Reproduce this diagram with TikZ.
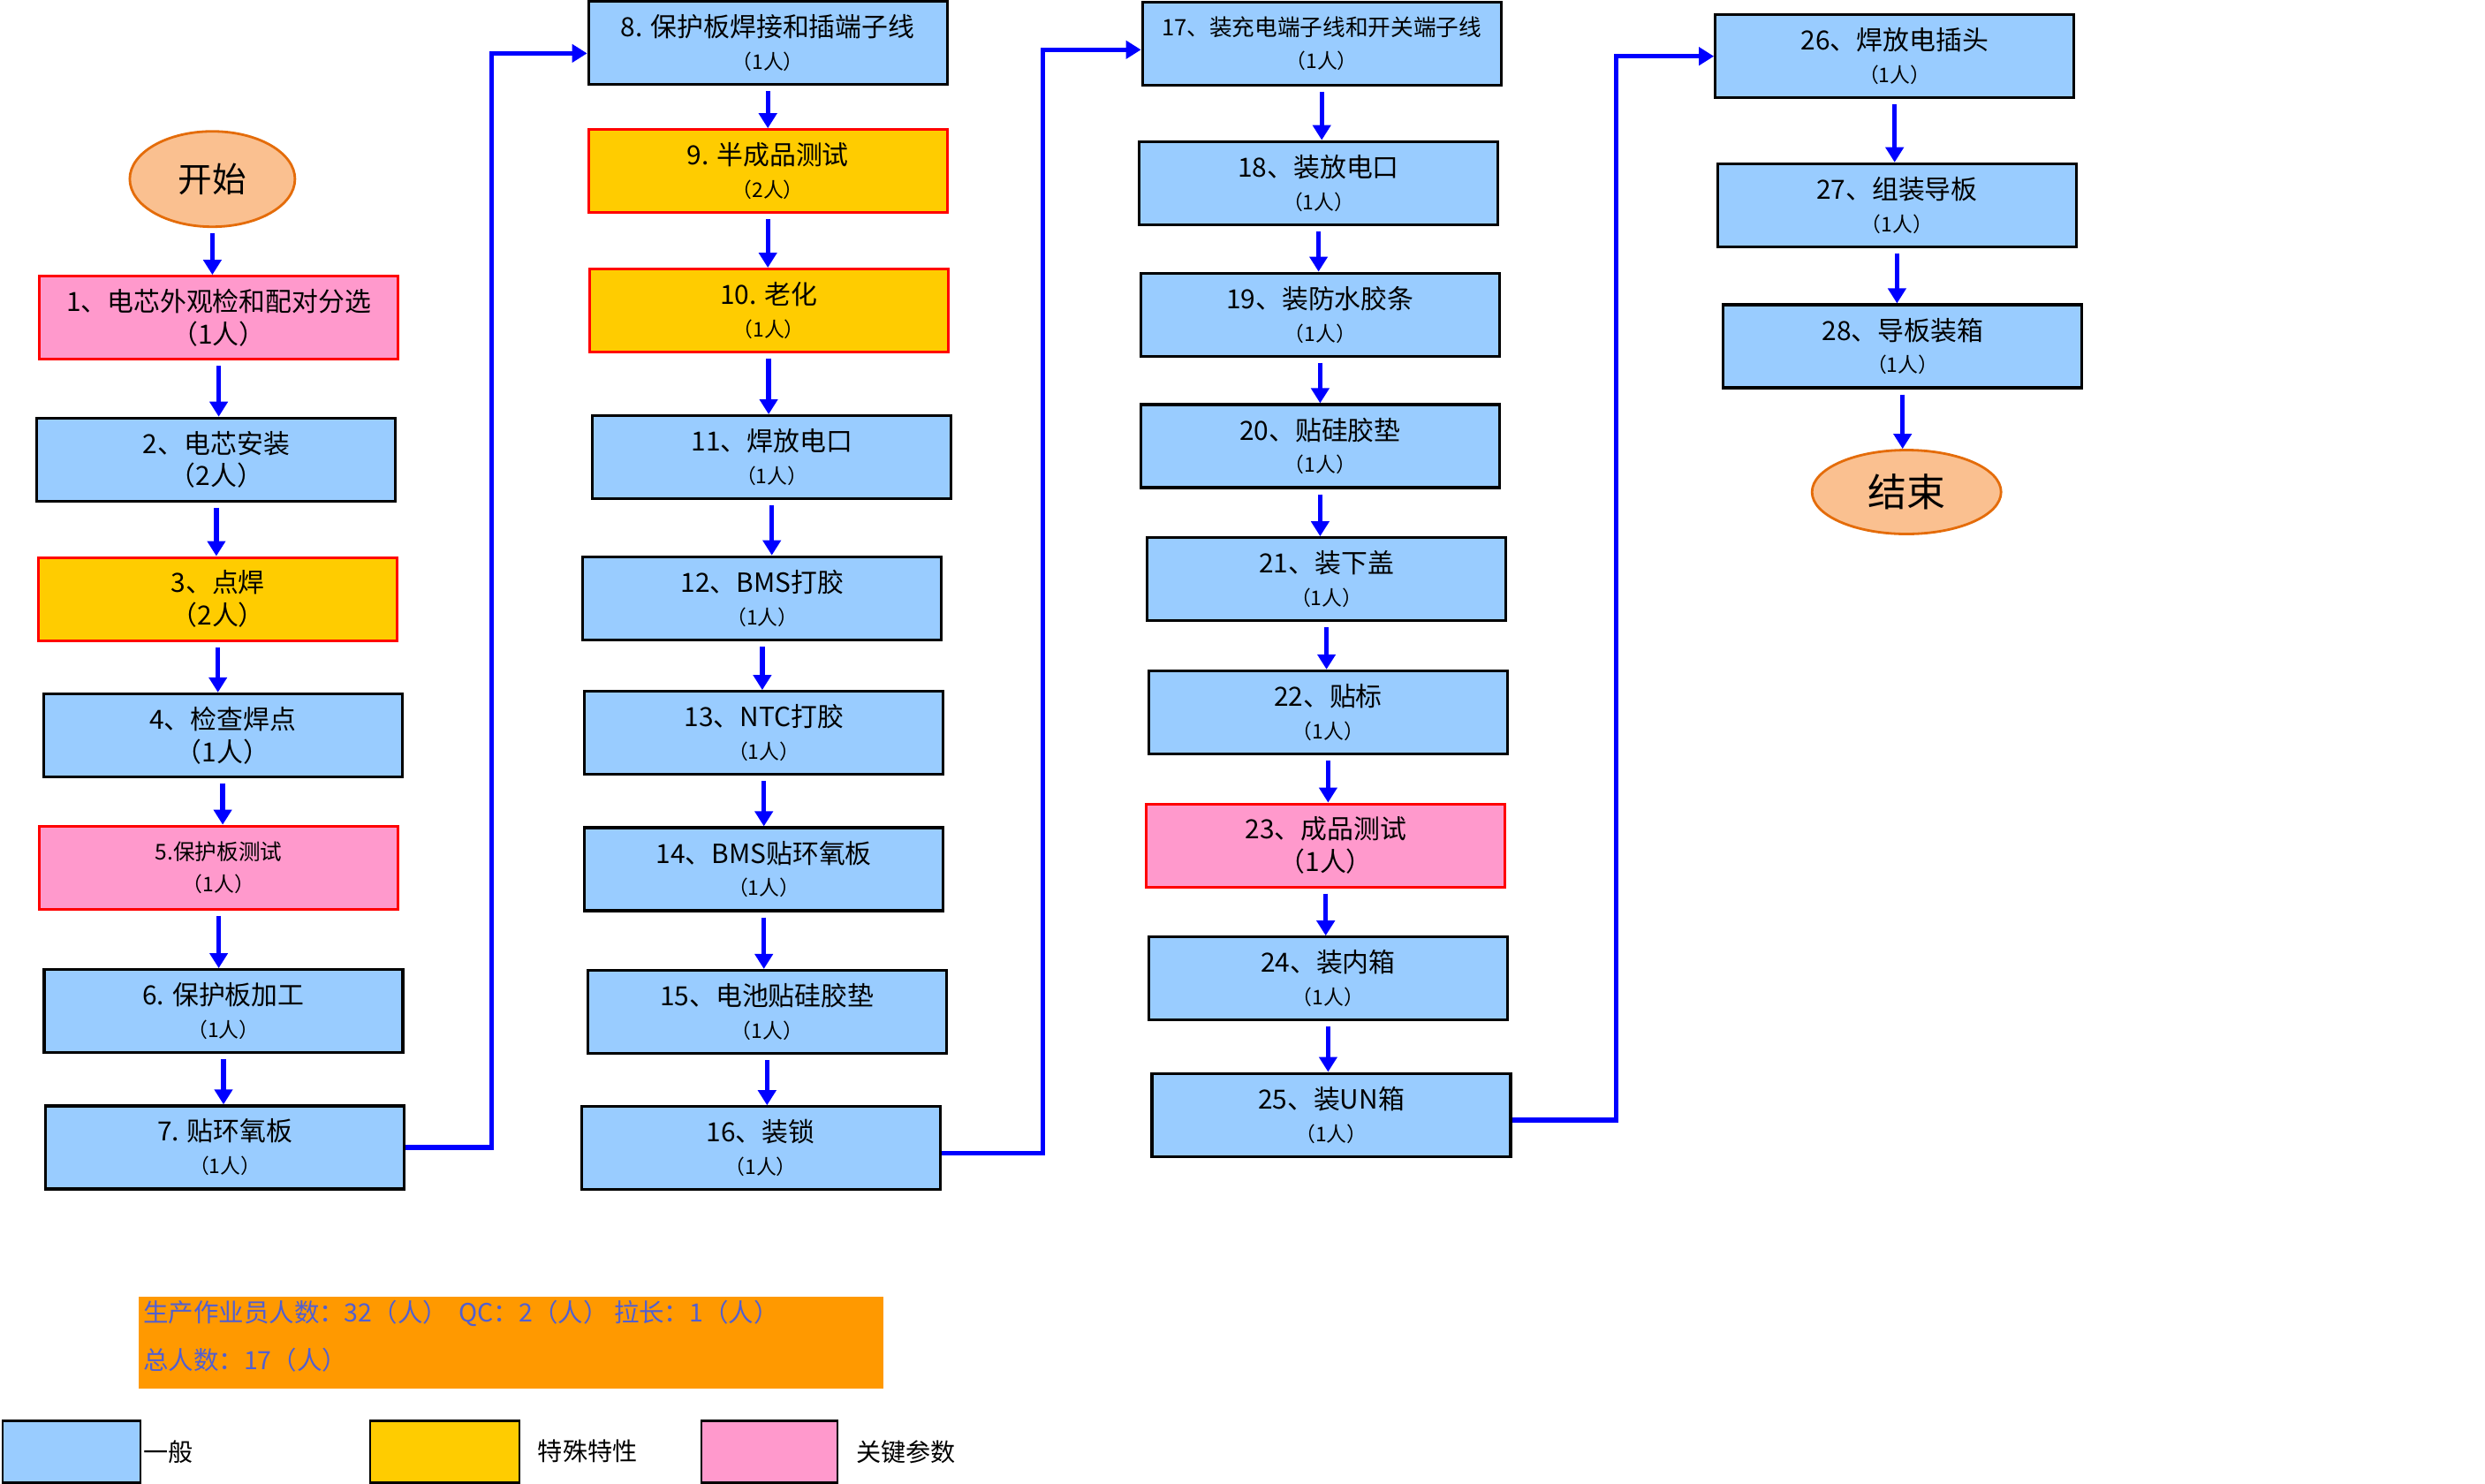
\documentclass[tikz,border=0pt]{standalone}
\usepackage{fontspec}
\setmainfont{Noto Sans CJK SC}
\usepackage{tikz}
\usetikzlibrary{arrows.meta,shapes.geometric}

\definecolor{genblue}{RGB}{153,204,255}
\definecolor{speyellow}{RGB}{255,204,0}
\definecolor{keypink}{RGB}{255,153,204}
\definecolor{ovalfill}{RGB}{250,192,144}
\definecolor{ovalline}{RGB}{228,108,10}
\definecolor{sumorange}{RGB}{255,153,0}
\definecolor{sumtext}{RGB}{80,95,210}

\tikzset{
	gen/.style={draw=black, fill=genblue, line width=0.9pt, minimum width=4.06cm, minimum height=0.94cm, align=center, inner sep=1pt, font=\fontsize{8.5}{10.5}\selectfont},
	spe/.style={gen, draw=red, fill=speyellow},
	key/.style={gen, draw=red, fill=keypink},
	oval/.style={ellipse, draw=ovalline, fill=ovalfill, line width=0.8pt, inner sep=0pt},
	flow/.style={draw=blue, line width=1.5pt, -{Triangle[width=0.2cm,length=0.17cm]}},
	legbox/.style={draw=black, line width=0.6pt, minimum width=1.56cm, minimum height=0.70cm, anchor=north west},
	legtext/.style={anchor=west, inner sep=0pt, font=\fontsize{8}{10}\selectfont},
	sumline/.style={anchor=west, inner sep=0pt, text=sumtext, font=\fontsize{8.1}{9}\selectfont},
}
\newcommand{\ppl}[1]{{\fontsize{6.5}{8}\selectfont （#1人）}}
\newcommand{\pplb}[1]{（#1人）}

\begin{document}
\begin{tikzpicture}
\useasboundingbox (0,0) rectangle (28.13,-16.79);

% column 1
\node[oval, minimum width=1.87cm, minimum height=1.08cm, font=\fontsize{11}{12}\selectfont] (start) at (2.404,-2.027) {开始};
\node[key] (b1) at (2.476,-3.597) {1、电芯外观检和配对分选\\\pplb{1}};
\node[gen] (b2) at (2.449,-5.203) {2、电芯安装\\\pplb{2}};
\node[spe] (b3) at (2.467,-6.781) {3、点焊\\\pplb{2}};
\node[gen] (b4) at (2.521,-8.324) {4、检查焊点\\\pplb{1}};
\node[key] (b5) at (2.476,-9.822) {{\fontsize{7}{9}\selectfont 5.保护板测试}\\\ppl{1}};
\node[gen] (b6) at (2.530,-11.446) {6. 保护板加工\\\ppl{1}};
\node[gen] (b7) at (2.547,-12.989) {7. 贴环氧板\\\ppl{1}};

% column 2
\node[gen] (b8) at (8.692,-0.484) {8. 保护板焊接和插端子线\\\ppl{1}};
\node[spe] (b9) at (8.692,-1.938) {9. 半成品测试\\\ppl{2}};
\node[spe] (b10) at (8.701,-3.516) {10. 老化\\\ppl{1}};
\node[gen] (b11) at (8.737,-5.176) {11、焊放电口\\\ppl{1}};
\node[gen] (b12) at (8.629,-6.772) {12、BMS打胶\\\ppl{1}};
\node[gen] (b13) at (8.647,-8.297) {13、NTC打胶\\\ppl{1}};
\node[gen] (b14) at (8.647,-9.840) {14、BMS贴环氧板\\\ppl{1}};
\node[gen] (b15) at (8.683,-11.455) {15、电池贴硅胶垫\\\ppl{1}};
\node[gen] (b16) at (8.611,-12.998) {16、装锁\\\ppl{1}};

% column 3
\node[gen] (b17) at (14.962,-0.493) {{\fontsize{7.3}{9}\selectfont 17、装充电端子线和开关端子线}\\\ppl{1}};
\node[gen] (b18) at (14.926,-2.072) {18、装放电口\\\ppl{1}};
\node[gen] (b19) at (14.944,-3.561) {19、装防水胶条\\\ppl{1}};
\node[gen] (b20) at (14.944,-5.050) {20、贴硅胶垫\\\ppl{1}};
\node[gen] (b21) at (15.016,-6.557) {21、装下盖\\\ppl{1}};
\node[gen] (b22) at (15.034,-8.064) {22、贴标\\\ppl{1}};
\node[key] (b23) at (15.007,-9.571) {23、成品测试\\\pplb{1}};
\node[gen] (b24) at (15.034,-11.078) {24、装内箱\\\ppl{1}};
\node[gen] (b25) at (15.070,-12.621) {25、装UN箱\\\ppl{1}};

% column 4
\node[gen] (b26) at (21.447,-0.637) {26、焊放电插头\\\ppl{1}};
\node[gen] (b27) at (21.474,-2.323) {27、组装导板\\\ppl{1}};
\node[gen] (b28) at (21.537,-3.920) {28、导板装箱\\\ppl{1}};
\node[oval, minimum width=2.14cm, minimum height=0.95cm, font=\fontsize{12.5}{14}\selectfont] (end) at (21.582,-5.570) {结束};

% straight arrows
\foreach \a/\b in {start/b1,b1/b2,b2/b3,b3/b4,b4/b5,b5/b6,b6/b7,
	b8/b9,b9/b10,b10/b11,b11/b12,b12/b13,b13/b14,b14/b15,b15/b16,
	b17/b18,b18/b19,b19/b20,b20/b21,b21/b22,b22/b23,b23/b24,b24/b25,
	b26/b27,b27/b28,b28/end}
	\draw[flow, shorten <=0.6mm] (\a.south) -- (\a.south |- \b.north);

% column jumps
\draw[flow] (b7.east) -- ++(0.97,0) |- ([yshift=-0.12cm]b8.west);
\draw[flow] ([yshift=-0.06cm]b16.east) -- ++(1.15,0) |- ([yshift=-0.07cm]b17.west);
\draw[flow] ([yshift=-0.06cm]b25.east) -- ++(1.18,0) |- (b26.west);

% head count
\node[fill=sumorange, minimum width=8.43cm, minimum height=1.04cm, anchor=north west, inner sep=0pt] (sum) at (1.561,-14.675) {};
\node[sumline] (sum1) at (1.615,-14.872) {生产作业员人数：32（人）\ \ QC：2（人）\ 拉长：1（人）};
\node[sumline] (sum2) at (1.615,-15.393) {总人数：17（人）};

% legend
\node[legbox, fill=genblue] (lg1) at (0.02,-16.074) {};
\node[legtext] (lt1) at (1.615,-16.433) {一般};
\node[legbox, fill=speyellow, minimum width=1.69cm] (lg2) at (4.180,-16.074) {};
\node[legtext] (lt2) at (6.082,-16.433) {特殊特性};
\node[legbox, fill=keypink, minimum width=1.54cm] (lg3) at (7.929,-16.074) {};
\node[legtext] (lt3) at (9.688,-16.433) {关键参数};
\end{tikzpicture}
\end{document}
